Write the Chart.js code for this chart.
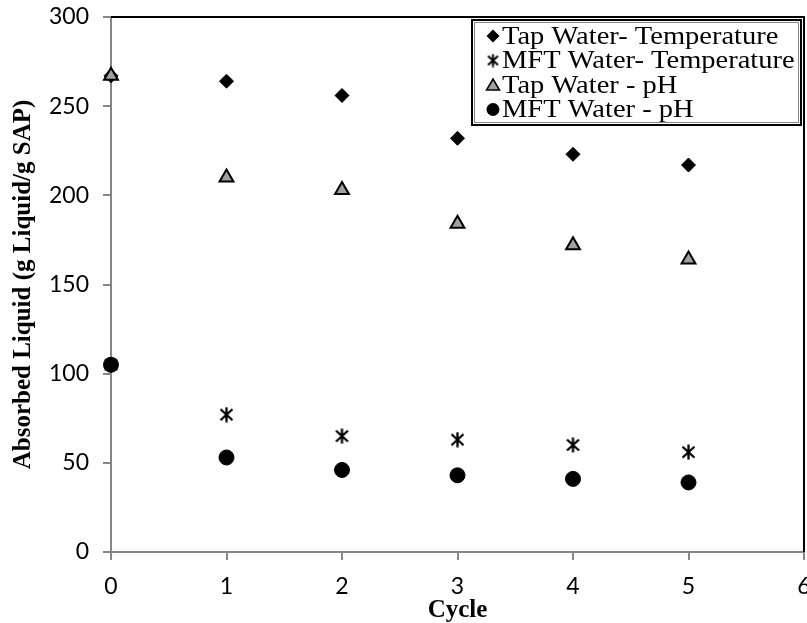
<!DOCTYPE html>
<html>
<head>
<meta charset="utf-8">
<title>Absorbed Liquid vs Cycle</title>
<script src="https://cdn.jsdelivr.net/npm/chart.js@4.4.0/dist/chart.umd.min.js"></script>
<style>
  html, body { margin: 0; padding: 0; background: #fff; }
  canvas { display: block; }
</style>
</head>
<body>
<canvas id="absChart" width="807" height="623"></canvas>
<script>
const cycles = [0, 1, 2, 3, 4, 5];
const tapTemp = [267, 264, 256, 232, 223, 217];
const mftTemp = [105, 77, 65, 63, 60, 56];
const tapPH = [267, 210, 203, 184, 172, 164];
const mftPH = [105, 53, 46, 43, 41, 39];
const seriesNames = ["Tap Water- Temperature", "MFT Water- Temperature", "Tap Water - pH", "MFT Water - pH"];

const AXIS_GREY = "#868686";

function makeStar(w, h, lw){
  const c = document.createElement("canvas");
  c.width = w; c.height = h;
  const g = c.getContext("2d");
  g.strokeStyle = "#000";
  g.lineWidth = lw;
  g.beginPath();
  g.moveTo(w / 2, 0.5); g.lineTo(w / 2, h - 0.5);
  g.moveTo(1.5, 2.5); g.lineTo(w - 1.5, h - 2.5);
  g.moveTo(w - 1.5, 2.5); g.lineTo(1.5, h - 2.5);
  g.stroke();
  return c;
}
const starPoint = makeStar(15, 16, 2.3);
const starLegend = makeStar(13, 14, 2);

function pts(values){
  return cycles.map((c, i) => ({ x: c, y: values[i] }));
}

const frameAndLegend = {
  id: "frameAndLegend",
  afterDraw(chart){
    const { ctx, chartArea: a } = chart;
    ctx.save();
    ctx.strokeStyle = "#000";
    ctx.lineWidth = 2;
    ctx.beginPath();
    ctx.moveTo(a.left, a.top);
    ctx.lineTo(a.right, a.top);
    ctx.lineTo(a.right, a.bottom);
    ctx.stroke();

    // legend box, top right inside the plot
    const bx = 472, by = 20, bw = 329, bh = 105;
    ctx.fillStyle = "#fff";
    ctx.fillRect(bx, by, bw, bh);
    ctx.lineWidth = 2;
    ctx.strokeStyle = "#000";
    ctx.strokeRect(bx, by, bw, bh);
    ctx.lineWidth = 1;
    ctx.strokeStyle = "#888";
    ctx.strokeRect(bx + 2.5, by + 2.5, bw - 5, bh - 5);

    const rowY = [36, 60.5, 85, 109.5];
    const mx = 493;
    seriesNames.forEach((name, i) => {
      const y = rowY[i];
      ctx.fillStyle = "#000";
      ctx.strokeStyle = "#000";
      ctx.lineWidth = 1;
      ctx.beginPath();
      if(i === 0){
        ctx.moveTo(mx - 6.5, y); ctx.lineTo(mx, y - 6.5); ctx.lineTo(mx + 6.5, y); ctx.lineTo(mx, y + 6.5);
        ctx.closePath(); ctx.fill();
      } else if(i === 1){
        ctx.drawImage(starLegend, mx - 6.5, y - 7);
      } else if(i === 2){
        ctx.moveTo(mx, y - 6); ctx.lineTo(mx + 6.5, y + 5); ctx.lineTo(mx - 6.5, y + 5);
        ctx.closePath();
        ctx.fillStyle = "#a0a0a0"; ctx.fill();
        ctx.lineWidth = 1.5; ctx.stroke();
      } else {
        ctx.arc(mx, y, 6.5, 0, Math.PI * 2); ctx.fill();
      }
      // the source text is a little wider than plain Times, stretch it
      ctx.save();
      ctx.translate(mx + 9, y + 1);
      ctx.scale(1.14, 1);
      ctx.font = "25px 'Liberation Serif', 'Times New Roman', serif";
      ctx.textBaseline = "middle";
      ctx.textAlign = "left";
      ctx.fillStyle = "#000";
      ctx.fillText(name, 0, 0);
      ctx.restore();
    });
    ctx.restore();
  }
};

const tickFont = { family: "Lato, 'Open Sans', sans-serif", size: 23 };
const titleFont = { family: "'Liberation Serif', 'Times New Roman', serif", size: 25, weight: "bold", lineHeight: 1 };

new Chart(document.getElementById("absChart"), {
  type: "scatter",
  data: {
    datasets: [
      { label: seriesNames[0], data: pts(tapTemp), pointStyle: "rectRot", pointRadius: 7, pointBackgroundColor: "#000", pointBorderColor: "#000", pointBorderWidth: 1, order: 4, clip: false },
      { label: seriesNames[1], data: pts(mftTemp), pointStyle: starPoint, pointRadius: 7, order: 3, clip: false },
      { label: seriesNames[2], data: pts(tapPH), pointStyle: "triangle", pointRadius: 8, pointBackgroundColor: "#a0a0a0", pointBorderColor: "#000", pointBorderWidth: 2, order: 2, clip: false },
      { label: seriesNames[3], data: pts(mftPH), pointStyle: "circle", pointRadius: 7.5, pointBackgroundColor: "#000", pointBorderColor: "#000", pointBorderWidth: 1, order: 1, clip: false }
    ]
  },
  options: {
    responsive: false,
    animation: false,
    layout: { autoPadding: false, padding: { top: 17, right: 3, left: 0, bottom: 0 } },
    plugins: { legend: { display: false }, tooltip: { enabled: false } },
    scales: {
      x: {
        type: "linear", min: 0, max: 6,
        ticks: { stepSize: 1, color: "#000", font: tickFont, padding: 13 },
        grid: { drawOnChartArea: false, drawTicks: true, tickLength: 8, color: AXIS_GREY, lineWidth: 2 },
        border: { color: AXIS_GREY, width: 2 },
        title: { display: true, text: "Cycle", color: "#000", font: titleFont, padding: { top: 0, bottom: 0 } },
        afterFit(s){ s.height = 71; s.paddingLeft = 0; s.paddingRight = 0; }
      },
      y: {
        min: 0, max: 300,
        ticks: { stepSize: 50, color: "#000", font: tickFont, padding: 14 },
        grid: { drawOnChartArea: false, drawTicks: true, tickLength: 8, color: AXIS_GREY, lineWidth: 2 },
        border: { color: AXIS_GREY, width: 2 },
        title: { display: true, text: "Absorbed Liquid (g Liquid/g SAP)", color: "#000", font: titleFont, padding: { top: 11, bottom: 0 } },
        afterFit(s){ s.width = 111; s.paddingTop = 0; s.paddingBottom = 0; }
      }
    }
  },
  plugins: [frameAndLegend]
});
</script>
</body>
</html>
